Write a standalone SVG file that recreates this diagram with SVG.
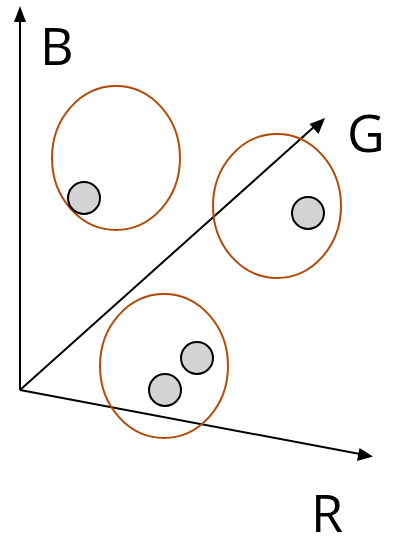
<svg xmlns="http://www.w3.org/2000/svg" width="394" height="547" viewBox="0 0 394 547">
<defs>
<style>
.axis{stroke:#000;stroke-width:2;fill:none}
.head{fill:#000}
.cluster{fill:none;stroke:#b34a0a;stroke-width:2}
.pt{fill:#d3d3d3;stroke:#000;stroke-width:2}
.lbl{font-family:"Open Sans","DejaVu Sans",sans-serif;font-size:52px;fill:#000}
</style>
</defs>
<rect width="394" height="547" fill="#fff"/>
<g id="connectors">
<line class="axis" x1="20" y1="390" x2="20" y2="18"/>
<path class="head" d="M20,6 L26,22 L14,22 z"/>
<line class="axis" x1="20" y1="390" x2="315" y2="126"/>
<path class="head" d="M325,118 L318.5,134 L309.5,124 z"/>
<line class="axis" x1="20" y1="390" x2="360" y2="454"/>
<path class="head" d="M373,456.5 L357,461 L359.5,448 z"/>
</g>
<g id="cluster1"><ellipse class="cluster" cx="116" cy="158" rx="64" ry="72"/><circle class="pt" cx="84" cy="198" r="16"/></g>
<g id="cluster2"><ellipse class="cluster" cx="277" cy="206" rx="64" ry="72"/><circle class="pt" cx="308" cy="213" r="16"/></g>
<g id="cluster3"><ellipse class="cluster" cx="164" cy="366" rx="64" ry="72"/><circle class="pt" cx="197" cy="358" r="16"/><circle class="pt" cx="165" cy="390" r="16"/></g>
<g id="labels">
<text class="lbl" x="40" y="65">B</text>
<text class="lbl" x="347" y="152">G</text>
<text class="lbl" x="311" y="532">R</text>
</g>
</svg>
